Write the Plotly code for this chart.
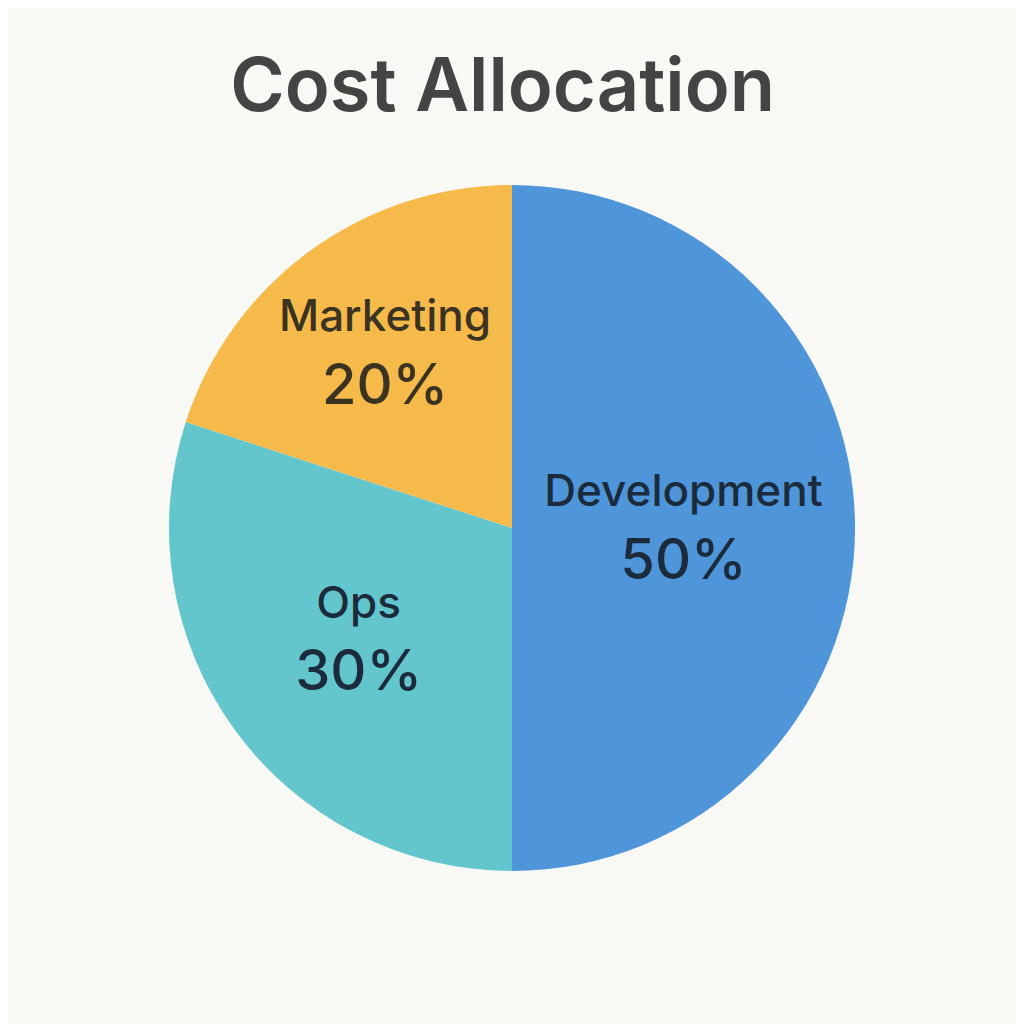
import plotly.graph_objects as go

labels = ["Development", "Ops", "Marketing"]
values = [50, 30, 20]
colors = ["#4F95D9", "#64C6CD", "#F5BA4A"]
text_colors = ["#1B2B3B", "#1B2B3B", "#3A3322"]

fig = go.Figure(go.Pie(
    labels=labels,
    values=values,
    sort=False,
    direction="clockwise",
    rotation=0,
    marker=dict(colors=colors, line=dict(width=0)),
    texttemplate="<span style='font-size:44px'>%{label}</span><br>%{percent:.0%}",
    textposition="inside",
    insidetextorientation="horizontal",
    textfont=dict(family="Inter", size=56, color=text_colors, weight=500),
    hoverinfo="label+percent",
    showlegend=False,
))

fig.update_layout(
    width=1024, height=1024,
    paper_bgcolor="#F8F8F5",
    plot_bgcolor="#F8F8F5",
    margin=dict(l=158, r=174, t=177, b=161),
    title=dict(text="Cost Allocation", x=0.483, xanchor="center",
               y=0.925, yanchor="middle",
               font=dict(family="Inter", size=74, color="#444444", weight=600)),
)

fig.write_html("out.html")
